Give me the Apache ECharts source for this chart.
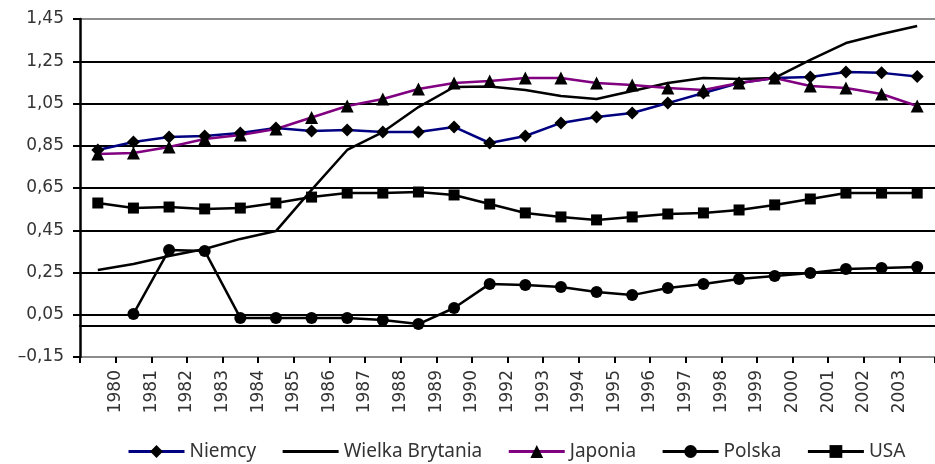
<!DOCTYPE html>
<html>
<head>
<meta charset="utf-8">
<title>Wskaźniki 1980–2003</title>
<script src="https://cdn.jsdelivr.net/npm/echarts@6/dist/echarts.min.js"></script>
<style>
  html, body { margin: 0; padding: 0; background: #fff; }
  #chart { width: 935px; height: 464px; }
</style>
</head>
<body>
<div id="chart"></div>
<script>
// Yearly observation slots (one point per slot)
const periods = ['1980','1981','1982','1983','1984','1985','1986','1987','1988','1989','1990','1991',
                 '1992','1993','1994','1995','1996','1997','1998','1999','2000','2001','2002','2003'];
// Year labels printed on the tick marks between the points
const tickYears = ['1980','1981','1982','1983','1984','1985','1986','1987','1988','1989','1990',
                   '1992','1993','1994','1995','1996','1997','1998','1999','2000','2001','2002','2003'];
// Value axis ticks
const yTicks = [-0.15, 0.05, 0.25, 0.45, 0.65, 0.85, 1.05, 1.25, 1.45];

const niemcy = [0.83, 0.868, 0.891, 0.896, 0.91, 0.934, 0.92, 0.925, 0.915, 0.915, 0.939, 0.863,
                0.896, 0.958, 0.986, 1.005, 1.052, 1.10, 1.147, 1.171, 1.175, 1.199, 1.195, 1.178];
const wielkaBrytania = [0.262, 0.29, 0.328, 0.361, 0.409, 0.446, 0.641, 0.83, 0.915, 1.033, 1.128, 1.13,
                        1.114, 1.085, 1.071, 1.109, 1.147, 1.171, 1.166, 1.171, 1.256, 1.336, 1.379, 1.417];
const japonia = [0.811, 0.816, 0.844, 0.882, 0.901, 0.929, 0.984, 1.038, 1.071, 1.119, 1.147, 1.156,
                 1.171, 1.171, 1.147, 1.138, 1.123, 1.114, 1.147, 1.171, 1.133, 1.123, 1.095, 1.038];
const polska = [null, 0.054, 0.357, 0.352, 0.035, 0.035, 0.035, 0.035, 0.025, 0.006, 0.082, 0.196,
                0.191, 0.181, 0.158, 0.143, 0.177, 0.196, 0.219, 0.233, 0.248, 0.267, 0.271, 0.276];
const usa = [0.579, 0.555, 0.56, 0.551, 0.555, 0.579, 0.607, 0.626, 0.626, 0.631, 0.617, 0.574,
             0.532, 0.513, 0.499, 0.513, 0.527, 0.532, 0.546, 0.57, 0.598, 0.626, 0.626, 0.626];

const chart = echarts.init(document.getElementById('chart'), null, { renderer: 'canvas' });

function fmtTick(v) {
  const s = Math.abs(v).toFixed(2).replace('.', ',');
  return v < 0 ? '\u2013' + s : s;
}

function lineSeries(name, data, lineColor, symbol, size) {
  return {
    name: name,
    type: 'line',
    xAxisIndex: 0,
    data: data,
    symbol: symbol,
    symbolSize: size,
    showSymbol: symbol !== 'none',
    connectNulls: false,
    animation: false,
    lineStyle: { color: lineColor, width: 2.5 },
    itemStyle: { color: '#000' },
    emphasis: { disabled: true }
  };
}

chart.setOption({
  backgroundColor: '#fff',
  animation: false,
  grid: { left: 80, right: -6, top: 19, bottom: 107, containLabel: false },
  legend: {
    left: 127,
    top: 442,
    padding: 0,
    itemWidth: 56,
    itemHeight: 16,
    itemGap: 25,
    selectedMode: false,
    lineStyle: { width: 3 },
    textStyle: { fontFamily: 'Noto Sans', fontSize: 19, color: '#333' },
    data: [
      { name: 'Niemcy' },
      // plain line entry: hide the symbol in its legend icon
      { name: 'Wielka Brytania', itemStyle: { opacity: 0 } },
      { name: 'Japonia' },
      { name: 'Polska' },
      { name: 'USA' }
    ]
  },
  xAxis: [
    {
      type: 'category',
      data: periods,
      boundaryGap: true,
      position: 'bottom',
      axisLine: { show: true, onZero: true, lineStyle: { color: '#000', width: 2 } },
      axisTick: { show: false },
      axisLabel: { show: false },
      splitLine: { show: false }
    },
    {
      type: 'category',
      data: [''].concat(tickYears, ['']),
      boundaryGap: false,
      position: 'bottom',
      axisLine: { show: false, onZero: true },
      axisTick: { show: true, length: 6, interval: 0, lineStyle: { color: '#000', width: 2 } },
      axisLabel: {
        show: true, interval: 0, rotate: 90, margin: 13,
        fontFamily: 'DejaVu Sans', fontSize: 17, color: '#333'
      },
      splitLine: { show: false }
    }
  ],
  yAxis: {
    type: 'value',
    min: -0.15,
    max: 1.45,
    interval: 0.2,
    axisLine: { show: true, lineStyle: { color: '#000', width: 2.5 } },
    axisTick: { show: true, length: 7, inside: false, customValues: yTicks, lineStyle: { color: '#000', width: 2 } },
    axisLabel: {
      show: true, margin: 16, customValues: yTicks,
      fontFamily: 'DejaVu Sans', fontSize: 17, color: '#333',
      formatter: fmtTick
    },
    splitLine: {
      show: true,
      lineStyle: {
        color: ['#8c8c8c', '#000', '#000', '#000', '#000', '#000', '#000', '#000', '#8c8c8c'],
        width: 2
      }
    }
  },
  series: [
    lineSeries('Niemcy', niemcy, '#000080', 'diamond', 13),
    lineSeries('Wielka Brytania', wielkaBrytania, '#000', 'none', 0),
    lineSeries('Japonia', japonia, '#800080', 'triangle', 13),
    lineSeries('Polska', polska, '#000', 'circle', 12),
    lineSeries('USA', usa, '#000', 'rect', 11)
  ]
});
</script>
</body>
</html>
